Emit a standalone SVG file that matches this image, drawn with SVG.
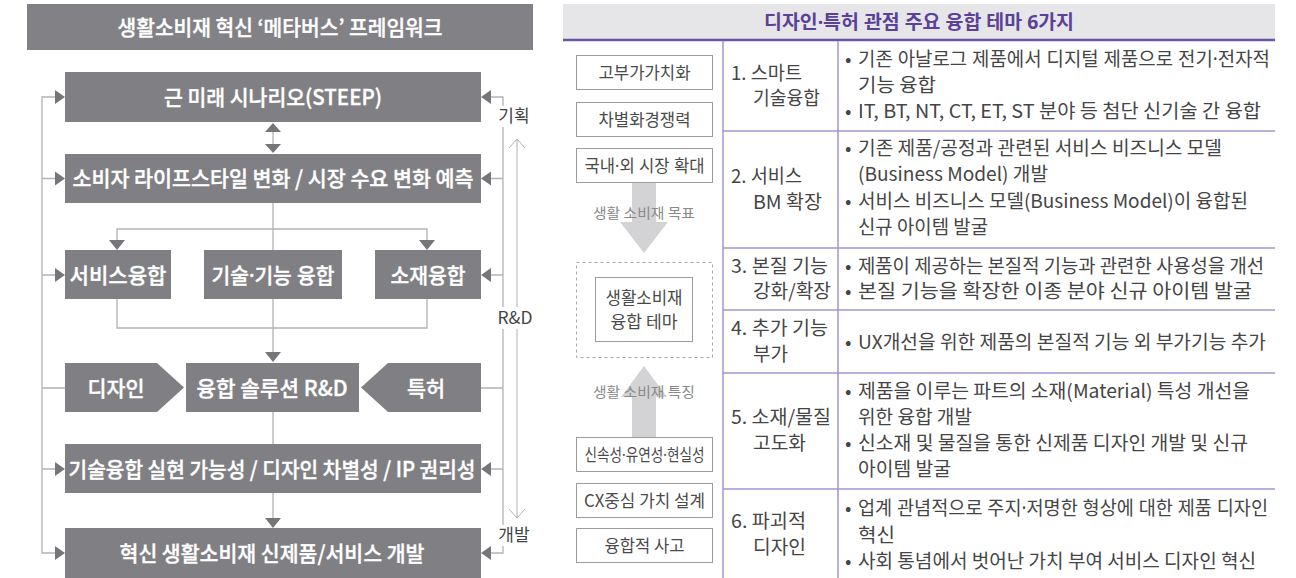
<svg xmlns="http://www.w3.org/2000/svg" width="1296" height="578" viewBox="0 0 1296 578">
<style>
text{font-family:"Noto Sans CJK KR","Noto Sans",sans-serif}
.d{font-family:"Noto Sans","Noto Sans CJK KR",sans-serif}
.lbox{fill:#808084}
.lt{font-size:21px;fill:#fff;text-anchor:middle;font-weight:500;stroke:#fff;stroke-width:0.35}
.conn{stroke:#b3b3b5;stroke-width:1.3;fill:none}
.thin{stroke:#b0b0b2;stroke-width:1;fill:none}
.ah{fill:#76767a}
.side{font-size:17px;fill:#444;text-anchor:middle}
.t{font-size:19px;fill:#454545}
.rb{fill:#fff;stroke:#9c9c9c;stroke-width:1}
.rbt{font-size:17px;fill:#4a4a4a;text-anchor:middle}
.arl{font-size:14px;fill:#8a8a8a;text-anchor:middle}
.tl{stroke:#a596d2;stroke-width:1.5;fill:none}
</style>
<defs>
<polygon id="ahR" points="0,-7 10,0 0,7"/>
<polygon id="ahL" points="0,-7 -10,0 0,7"/>
<polygon id="ahD" points="-8,0 8,0 0,10"/>
</defs>

<!-- LEFT PANEL -->
<g id="left-title">
<rect x="27" y="4" width="506" height="46" fill="#828286"/>
<text class="lt" x="280" y="34.5" textLength="325" lengthAdjust="spacingAndGlyphs">생활소비재 혁신 ‘메타버스’ 프레임워크</text>
</g>

<g id="connectors">
<path class="conn" d="M55,97 H42 V553 H55 M42,178.5 H55 M42,275 H55 M42,388 H65 M42,469 H55"/>
<path class="conn" d="M491,97 H503 V553 H491 M503,178.5 H491 M503,275 H491 M503,388 H481 M503,469 H491"/>
<path class="conn" d="M273,131 V145 M273,203 V352 M117,240 V229 H427 V240 M117,299 V328 H427 V299 M273,412 V444 M273,493 V518"/>
<path class="thin" d="M517,139 V518 M509,148 L517,139 L525,148 M509,509 L517,518 L525,509"/>
<g class="ah">
<use href="#ahR" x="55" y="97"/><use href="#ahR" x="55" y="178.5"/><use href="#ahR" x="55" y="275"/><use href="#ahR" x="55" y="469"/><use href="#ahR" x="55" y="553"/>
<use href="#ahL" x="491" y="97"/><use href="#ahL" x="491" y="178.5"/><use href="#ahL" x="491" y="275"/><use href="#ahL" x="491" y="469"/><use href="#ahL" x="491" y="553"/>
<polygon points="265,132 273,123 281,132"/><polygon points="265,144 273,153 281,144"/>
<use href="#ahD" x="117" y="240"/><use href="#ahD" x="427" y="240"/>
<use href="#ahD" x="273" y="352"/><use href="#ahD" x="273" y="518"/>
</g>
<rect x="497" y="106" width="34" height="21" fill="#fff"/>
<rect x="496" y="307" width="38" height="22" fill="#fff"/>
<rect x="497" y="525" width="34" height="21" fill="#fff"/>
<text class="side" x="514" y="122">기획</text>
<text class="side" x="515" y="324" textLength="35" lengthAdjust="spacingAndGlyphs">R&amp;D</text>
<text class="side" x="514" y="541">개발</text>
</g>

<g id="n-scenario"><rect class="lbox" x="65" y="72" width="416" height="50"/><text class="lt" x="273" y="104.5" textLength="218" lengthAdjust="spacingAndGlyphs">근 미래 시나리오(STEEP)</text></g>
<g id="n-lifestyle"><rect class="lbox" x="65" y="154" width="416" height="49"/><text class="lt" x="273" y="186" textLength="401" lengthAdjust="spacingAndGlyphs">소비자 라이프스타일 변화 / 시장 수요 변화 예측</text></g>
<g id="n-service"><rect class="lbox" x="65" y="250" width="106" height="49"/><text class="lt" x="118" y="282.5" textLength="97" lengthAdjust="spacingAndGlyphs">서비스융합</text></g>
<g id="n-tech"><rect class="lbox" x="204" y="250" width="138" height="49"/><text class="lt d" x="273" y="282.5" textLength="123" lengthAdjust="spacingAndGlyphs">기술·기능 융합</text></g>
<g id="n-material"><rect class="lbox" x="375" y="250" width="106" height="49"/><text class="lt" x="428" y="282.5" textLength="75" lengthAdjust="spacingAndGlyphs">소재융합</text></g>
<g id="n-design"><polygon class="lbox" points="65,363 157,363 184,387.5 157,412 65,412"/><text class="lt" x="116" y="395.5" textLength="57" lengthAdjust="spacingAndGlyphs">디자인</text></g>
<g id="n-rnd"><rect class="lbox" x="186" y="363" width="173" height="49"/><text class="lt" x="272" y="395.5" textLength="151" lengthAdjust="spacingAndGlyphs">융합 솔루션 R&amp;D</text></g>
<g id="n-patent"><polygon class="lbox" points="481,363 388,363 361,387.5 388,412 481,412"/><text class="lt" x="426" y="395.5" textLength="38" lengthAdjust="spacingAndGlyphs">특허</text></g>
<g id="n-feasibility"><rect class="lbox" x="65" y="444" width="416" height="49"/><text class="lt" x="272" y="476.5" textLength="407" lengthAdjust="spacingAndGlyphs">기술융합 실현 가능성 / 디자인 차별성 / IP 권리성</text></g>
<g id="n-develop"><rect class="lbox" x="65" y="528" width="416" height="50"/><text class="lt" x="272" y="560.5" textLength="305" lengthAdjust="spacingAndGlyphs">혁신 생활소비재 신제품/서비스 개발</text></g>

<!-- RIGHT PANEL -->
<g id="right-header">
<rect x="563" y="4" width="712" height="35" fill="#e6e6e8"/>
<text class="d" x="919" y="29" text-anchor="middle" font-size="19" font-weight="bold" fill="#5b4197" textLength="310" lengthAdjust="spacingAndGlyphs">디자인·특허 관점 주요 융합 테마 6가지</text>
<path d="M563,40 H1275" stroke="#6a56a6" stroke-width="2.5"/>
</g>

<g id="goals">
<rect class="rb" x="576.5" y="55.5" width="136" height="34"/><text class="rbt" x="644.5" y="78.5" textLength="92" lengthAdjust="spacingAndGlyphs">고부가가치화</text>
<rect class="rb" x="576.5" y="102.5" width="136" height="34"/><text class="rbt" x="644.5" y="125.5" textLength="92" lengthAdjust="spacingAndGlyphs">차별화경쟁력</text>
<rect class="rb" x="576.5" y="148.5" width="136" height="34"/><text class="rbt d" x="644.5" y="171.5" textLength="120" lengthAdjust="spacingAndGlyphs">국내·외 시장 확대</text>
</g>
<g id="arrow-goal">
<polygon points="632,183 656,183 656,222 668,222 644,253 620,222 632,222" fill="#d3d3d5"/>
<text class="arl" x="644" y="218" textLength="102" lengthAdjust="spacingAndGlyphs">생활 소비재 목표</text>
</g>
<g id="theme">
<rect x="576.5" y="262.5" width="136" height="95" fill="none" stroke="#a8a8a8" stroke-width="1" stroke-dasharray="3,3"/>
<rect class="rb" x="595.5" y="277.5" width="97" height="64"/>
<text class="rbt" x="644" y="304" textLength="77" lengthAdjust="spacingAndGlyphs">생활소비재</text>
<text class="rbt" x="644" y="328" textLength="67" lengthAdjust="spacingAndGlyphs">융합 테마</text>
</g>
<g id="arrow-feature">
<polygon points="644,366 667,397 656,397 656,437 632,437 632,397 621,397" fill="#d3d3d5"/>
<text class="arl" x="644" y="397" textLength="102" lengthAdjust="spacingAndGlyphs">생활 소비재 특징</text>
</g>
<g id="features">
<rect class="rb" x="576.5" y="437.5" width="136" height="34"/><text class="rbt d" x="644.5" y="460.5" textLength="120" lengthAdjust="spacingAndGlyphs">신속성·유연성·현실성</text>
<rect class="rb" x="576.5" y="483.5" width="136" height="34"/><text class="rbt" x="644.5" y="506.5" textLength="121" lengthAdjust="spacingAndGlyphs">CX중심 가치 설계</text>
<rect class="rb" x="576.5" y="528.5" width="136" height="34"/><text class="rbt" x="644.5" y="551.5" textLength="80" lengthAdjust="spacingAndGlyphs">융합적 사고</text>
</g>

<g id="table-lines">
<path class="tl" d="M723,41 V578 M838,41 V578 M723,131 H1275 M723,248 H1275 M723,310 H1275 M723,373 H1275 M723,489 H1275"/>
</g>

<g id="row1">
<text class="t" x="731" y="80" textLength="71" lengthAdjust="spacingAndGlyphs">1. 스마트</text>
<text class="t" x="753" y="105" textLength="67" lengthAdjust="spacingAndGlyphs">기술융합</text>
<text class="t" x="845" y="66">•</text><text class="t d" x="858" y="66" textLength="412" lengthAdjust="spacingAndGlyphs">기존 아날로그 제품에서 디지털 제품으로 전기·전자적</text>
<text class="t" x="858" y="92" textLength="78" lengthAdjust="spacingAndGlyphs">기능 융합</text>
<text class="t" x="845" y="118">•</text><text class="t" x="858" y="118" textLength="403" lengthAdjust="spacingAndGlyphs">IT, BT, NT, CT, ET, ST 분야 등 첨단 신기술 간 융합</text>
</g>
<g id="row2">
<text class="t" x="731" y="183" textLength="71" lengthAdjust="spacingAndGlyphs">2. 서비스</text>
<text class="t" x="753" y="209" textLength="69" lengthAdjust="spacingAndGlyphs">BM 확장</text>
<text class="t" x="845" y="155">•</text><text class="t" x="858" y="155" textLength="364" lengthAdjust="spacingAndGlyphs">기존 제품/공정과 관련된 서비스 비즈니스 모델</text>
<text class="t" x="858" y="181" textLength="190" lengthAdjust="spacingAndGlyphs">(Business Model) 개발</text>
<text class="t" x="845" y="208">•</text><text class="t" x="858" y="208" textLength="390" lengthAdjust="spacingAndGlyphs">서비스 비즈니스 모델(Business Model)이 융합된</text>
<text class="t" x="858" y="234" textLength="130" lengthAdjust="spacingAndGlyphs">신규 아이템 발굴</text>
</g>
<g id="row3">
<text class="t" x="731" y="273" textLength="97" lengthAdjust="spacingAndGlyphs">3. 본질 기능</text>
<text class="t" x="753" y="298" textLength="78" lengthAdjust="spacingAndGlyphs">강화/확장</text>
<text class="t" x="845" y="273">•</text><text class="t" x="858" y="273" textLength="406" lengthAdjust="spacingAndGlyphs">제품이 제공하는 본질적 기능과 관련한 사용성을 개선</text>
<text class="t" x="845" y="298">•</text><text class="t" x="858" y="298" textLength="394" lengthAdjust="spacingAndGlyphs">본질 기능을 확장한 이종 분야 신규 아이템 발굴</text>
</g>
<g id="row4">
<text class="t" x="731" y="335" textLength="97" lengthAdjust="spacingAndGlyphs">4. 추가 기능</text>
<text class="t" x="753" y="361" textLength="35" lengthAdjust="spacingAndGlyphs">부가</text>
<text class="t" x="845" y="349">•</text><text class="t" x="858" y="349" textLength="408" lengthAdjust="spacingAndGlyphs">UX개선을 위한 제품의 본질적 기능 외 부가기능 추가</text>
</g>
<g id="row5">
<text class="t" x="731" y="424" textLength="100" lengthAdjust="spacingAndGlyphs">5. 소재/물질</text>
<text class="t" x="753" y="450" textLength="53" lengthAdjust="spacingAndGlyphs">고도화</text>
<text class="t" x="845" y="398">•</text><text class="t" x="858" y="398" textLength="392" lengthAdjust="spacingAndGlyphs">제품을 이루는 파트의 소재(Material) 특성 개선을</text>
<text class="t" x="858" y="424" textLength="114" lengthAdjust="spacingAndGlyphs">위한 융합 개발</text>
<text class="t" x="845" y="450">•</text><text class="t" x="858" y="450" textLength="390" lengthAdjust="spacingAndGlyphs">신소재 및 물질을 통한 신제품 디자인 개발 및 신규</text>
<text class="t" x="858" y="476" textLength="93" lengthAdjust="spacingAndGlyphs">아이템 발굴</text>
</g>
<g id="row6">
<text class="t" x="731" y="528" textLength="75" lengthAdjust="spacingAndGlyphs">6. 파괴적</text>
<text class="t" x="753" y="554" textLength="53" lengthAdjust="spacingAndGlyphs">디자인</text>
<text class="t" x="845" y="515">•</text><text class="t d" x="858" y="515" textLength="410" lengthAdjust="spacingAndGlyphs">업계 관념적으로 주지·저명한 형상에 대한 제품 디자인</text>
<text class="t" x="858" y="542" textLength="37" lengthAdjust="spacingAndGlyphs">혁신</text>
<text class="t" x="845" y="568">•</text><text class="t" x="858" y="568" textLength="398" lengthAdjust="spacingAndGlyphs">사회 통념에서 벗어난 가치 부여 서비스 디자인 혁신</text>
</g>
</svg>
